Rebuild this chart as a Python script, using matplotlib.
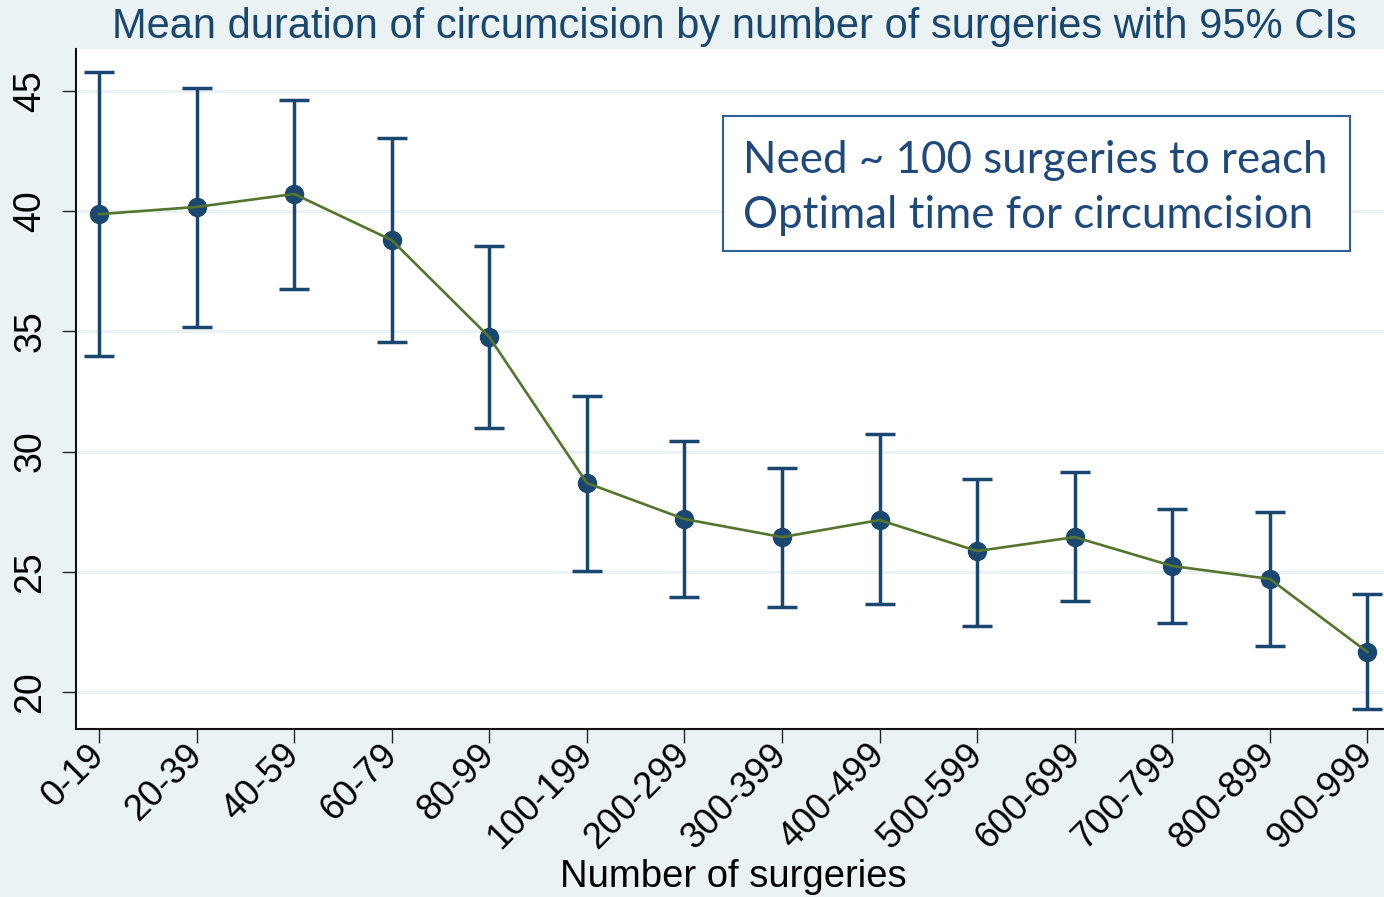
import matplotlib
matplotlib.use("Agg")
import matplotlib.pyplot as plt
from matplotlib.patches import Rectangle
import numpy as np

# ── Data ──────────────────────────────────────────────────────────────────────
groups = ['0-19', '20-39', '40-59', '60-79', '80-99', '100-199', '200-299',
          '300-399', '400-499', '500-599', '600-699', '700-799', '800-899', '900-999']
mean_dur = [39.87, 40.17, 40.71, 38.79, 34.76, 28.69, 27.19,
            26.44, 27.15, 25.86, 26.44, 25.24, 24.70, 21.66]
ci_upper = [45.78, 45.11, 44.62, 43.04, 38.54, 32.31, 30.44,
            29.31, 30.73, 28.86, 29.15, 27.61, 27.48, 24.07]
ci_lower = [33.97, 35.18, 36.76, 34.55, 30.98, 25.03, 23.95,
            23.53, 23.66, 22.74, 23.78, 22.87, 21.93, 19.29]
y_ticks = [20, 25, 30, 35, 40, 45]
note_lines = ['Need ~ 100 surgeries to reach', 'Optimal time for circumcision']

# ── Style ─────────────────────────────────────────────────────────────────────
NAVY = '#1a476f'
OLIVE = '#55752f'
BG = '#eaf2f3'

plt.rcParams['font.family'] = ['Liberation Sans', 'DejaVu Sans']

fig = plt.figure(figsize=(13.84, 8.97), dpi=100, facecolor=BG)
ax = fig.add_axes([0.0549, 0.1873, 0.9451, 0.7581])
ax.set_facecolor('white')

x = np.arange(len(groups))
mean = np.array(mean_dur)
yerr = np.vstack([mean - np.array(ci_lower), np.array(ci_upper) - mean])

ax.errorbar(x, mean, yerr=yerr, fmt='o', color=NAVY, ecolor=NAVY,
            ms=13, elinewidth=2.5, capsize=11, capthick=2.5, zorder=3)
ax.plot(x, mean, '-', color=OLIVE, lw=1.9, zorder=4)

ax.set_xlim(-0.236, 13.17)
ax.set_ylim(18.46, 46.74)

ax.set_yticks(y_ticks)
ax.set_yticklabels([str(v) for v in y_ticks], rotation=90, va='center', fontsize=27)
ax.set_xticks(x)
ax.set_xticklabels(groups, rotation=45, ha='right', va='center',
                   rotation_mode='anchor', fontsize=26)
ax.tick_params(axis='both', length=10, width=1.0, color='#222222')
ax.tick_params(axis='y', pad=10)
ax.tick_params(axis='x', pad=5)

ax.grid(axis='y', color=BG, lw=2.2, zorder=0)
ax.set_axisbelow(True)
for side in ('top', 'right'):
    ax.spines[side].set_visible(False)
for side in ('left', 'bottom'):
    ax.spines[side].set_linewidth(1.5)
    ax.spines[side].set_color('#111111')

fig.text(0.5296, 0.0223, 'Number of surgeries', ha='center', va='center', fontsize=27.5)
fig.text(0.5303, 0.970, 'Mean duration of circumcision by number of surgeries with 95% CIs',
         ha='center', va='center', color=NAVY, fontsize=30)

# ── Annotation box ────────────────────────────────────────────────────────────
fig.add_artist(Rectangle((0.5224, 0.7202), 0.4530, 0.1505, transform=fig.transFigure,
                         facecolor='white', edgecolor='#2e5f96', lw=1.5, zorder=5))
for i, line in enumerate(note_lines):
    fig.text(0.5368, 0.8216 - i * 0.0613, line, ha='left', va='center',
             color='#1f497d', fontsize=31.6, family=['Lato', 'DejaVu Sans'], zorder=6)

fig.savefig('out.png', dpi=100, facecolor=BG)
